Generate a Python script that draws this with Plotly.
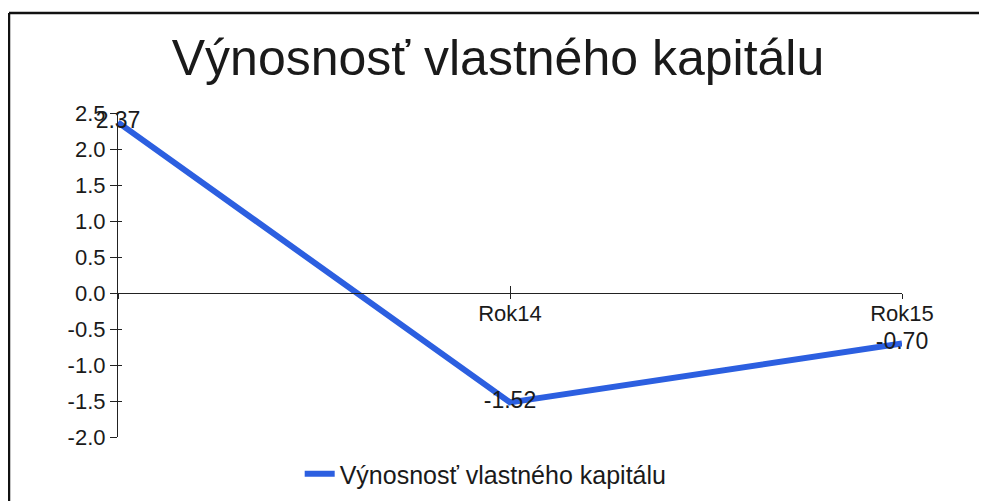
import plotly.graph_objects as go

categories = ["Rok13", "Rok14", "Rok15"]
tick_labels = ["", "Rok14", "Rok15"]
values = [2.37, -1.52, -0.70]
value_labels = ["2.37", "-1.52", "-0.70"]
y_tickvals = [-2.0, -1.5, -1.0, -0.5, 0.0, 0.5, 1.0, 1.5, 2.0, 2.5]
y_ticktext = ["-2.0", "-1.5", "-1.0", "-0.5", "0.0", "0.5", "1.0", "1.5", "2.0", "2.5"]
series_name = "Výnosnosť vlastného kapitálu"
title_text = "Výnosnosť vlastného kapitálu"

# page has an 8px body margin, so the figure is laid out 8px smaller
W, H = 979, 493
L, R, T, B = 110, 85, 105, 64
pw, ph = W - L - R, H - T - B

ymin, ymax = -2.0, 2.5
zero_pos = (0 - ymin) / (ymax - ymin)
ink = "#1a1a1a"
ff = "Liberation Sans, Arial, sans-serif"

fig = go.Figure()
fig.add_trace(go.Scatter(
    x=categories, y=values, mode="lines+text", name=series_name,
    text=value_labels, textposition="middle center", cliponaxis=False,
    textfont=dict(size=23, color=ink, family=ff),
    line=dict(color="#2c5fe0", width=6),
))

fig.update_layout(
    width=W, height=H,
    margin=dict(l=L, r=R, t=T, b=B, autoexpand=False),
    paper_bgcolor="white", plot_bgcolor="white",
    font=dict(family=ff, color=ink),
    title=dict(text=title_text, x=(490 - L) / pw, xanchor="center", xref="paper",
               y=(H - 49) / H, yanchor="middle", yref="container",
               font=dict(size=50, family=ff, color=ink)),
    showlegend=True,
    legend=dict(orientation="h", x=0.469, xanchor="center", y=(H - B - 466) / ph, yanchor="middle",
                font=dict(size=25, color=ink), bgcolor="rgba(0,0,0,0)"),
    xaxis=dict(
        type="category", range=[0, 2], anchor="free", position=zero_pos, automargin=False,
        showline=True, linecolor="#222", linewidth=1.2,
        ticks="outside", ticklen=5, tickcolor="#222", tickwidth=1.2,
        tickvals=categories, ticktext=tick_labels, tickfont=dict(size=22),
        ticklabelstandoff=-5,
        showgrid=False, zeroline=False,
    ),
    xaxis2=dict(
        type="category", range=[0, 2], overlaying="x", anchor="free", position=zero_pos,
        showline=False, ticks="inside", ticklen=7, tickcolor="#222", tickwidth=1.2,
        tickvals=categories, showticklabels=False, showgrid=False, zeroline=False,
        matches="x", automargin=False,
    ),
    yaxis=dict(
        range=[ymin, ymax], tickvals=y_tickvals, ticktext=y_ticktext, automargin=False,
        showline=True, linecolor="#222", linewidth=1.2,
        ticks="outside", ticklen=7, tickcolor="#222", tickwidth=1.2,
        tickfont=dict(size=22), showgrid=False, zeroline=False,
    ),
    yaxis2=dict(
        range=[ymin, ymax], tickvals=y_tickvals, overlaying="y", anchor="x", side="left",
        showline=False, ticks="inside", ticklen=4, tickcolor="#222", tickwidth=1.2,
        showticklabels=False, showgrid=False, zeroline=False, matches="y", automargin=False,
    ),
)
# invisible trace to activate secondary axes for crossing tick marks
fig.add_trace(go.Scatter(x=categories, y=values, xaxis="x2", yaxis="y2",
                         mode="lines", line=dict(width=0), opacity=0,
                         showlegend=False, hoverinfo="skip"))

# scanned page border (left and top edges)
x0 = (1 - L) / pw
ytop = (H - B - 5) / ph
fig.add_shape(type="line", xref="paper", yref="paper", x0=x0, x1=x0, y0=-0.3, y1=ytop,
              line=dict(color="#111", width=2.5))
fig.add_shape(type="line", xref="paper", yref="paper", x0=x0, x1=(W + 10 - L) / pw, y0=ytop, y1=ytop,
              line=dict(color="#111", width=2.5))

fig.write_html("out.html")
